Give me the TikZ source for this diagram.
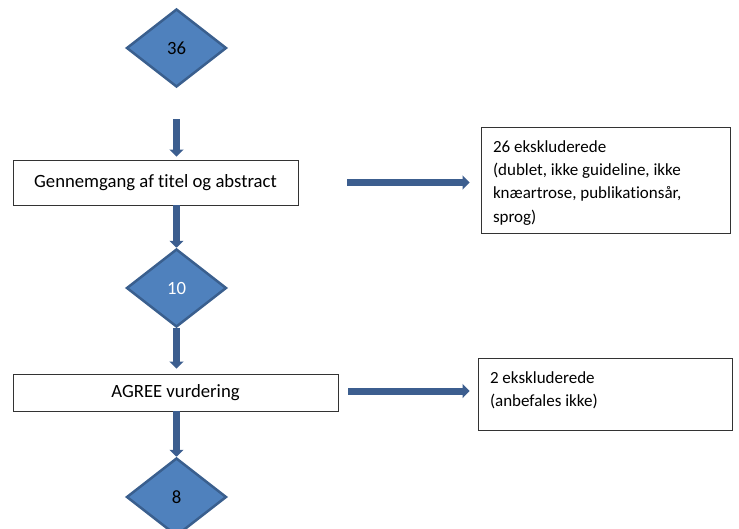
\documentclass[tikz,border=0pt]{standalone}
\usepackage{fontspec}
\setmainfont{Carlito}[Ligatures=NoCommon]
\usetikzlibrary{shapes.geometric,arrows.meta}
\definecolor{diafill}{HTML}{4F81BD}
\definecolor{diaedge}{HTML}{3A5F8E}
\definecolor{arrowblue}{HTML}{3C5E8F}
\tikzset{
  numdiamond/.style={diamond,draw=diaedge,fill=diafill,line width=2.5pt,
    minimum width=100pt,minimum height=78pt,inner sep=0pt,
    font=\fontsize{18.7}{22}\selectfont},
  stepbox/.style={rectangle,draw=black!80,line width=0.9pt,inner sep=0pt,
    font=\fontsize{18.7}{22}\selectfont},
  exclbox/.style={rectangle,draw=black!80,line width=0.9pt,
    inner xsep=12pt,inner ysep=0pt},
  flowarrow/.style={draw=arrowblue,line width=7pt,
    -{Triangle[width=14pt,length=7pt]}}
}
\newcommand\excltext[3]{\parbox[c][#1][t]{#2}{\raggedright
  \fontsize{17}{23.3}\selectfont #3}}
\begin{document}
\begin{tikzpicture}[x=1pt,y=-1pt]
\useasboundingbox (0,0) rectangle (739,528);
% hovedforloeb
\node[numdiamond] (d1) at (176.5,48) {36};
\node[stepbox,minimum width=285pt,minimum height=45pt] (b1) at (155.5,182.5)
  {Gennemgang af titel og abstract};
\node[numdiamond,text=white] (d2) at (176.5,288) {10};
\node[stepbox,minimum width=325pt,minimum height=37pt] (b2) at (175.5,392.5)
  {AGREE vurdering};
\node[numdiamond] (d3) at (176.5,497) {8};
% eksklusioner
\node[exclbox,minimum width=249pt,minimum height=106pt] (e1) at (605.5,180)
  {\excltext{79.4pt}{225pt}{26 ekskluderede\\(dublet, ikke guideline, ikke\\knæartrose, publikationsår,\\sprog)}};
\node[exclbox,minimum width=254pt,minimum height=72pt] (e2) at (605,394)
  {\excltext{44pt}{230pt}{2 ekskluderede\\[-0.8pt](anbefales ikke)}};
% pile
\draw[flowarrow] ([yshift=-31pt]d1.south) -- ([yshift=3pt]b1.north -| d1.south);
\draw[flowarrow] (b1.south -| d2.north) -- (d2.north);
\draw[flowarrow] (d2.south) -- ([yshift=5pt]b2.north -| d2.south);
\draw[flowarrow] (b2.south -| d3.north) -- (d3.north);
\draw[flowarrow] ([xshift=49pt]b1.east) -- ([xshift=-11pt]b1.east -| e1.west);
\draw[flowarrow] ([xshift=10pt,yshift=1.5pt]b2.east) -- ([xshift=-8pt,yshift=1.5pt]b2.east -| e2.west);
\end{tikzpicture}
\end{document}
